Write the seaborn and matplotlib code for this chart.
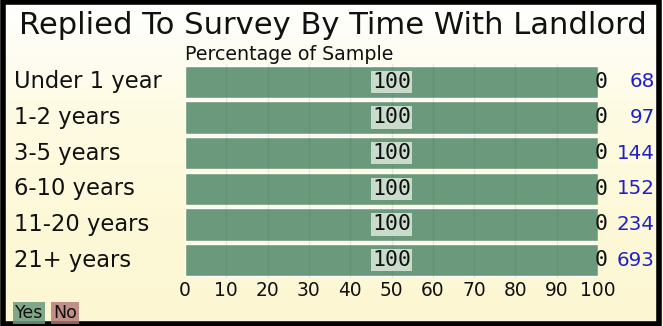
import matplotlib
matplotlib.use("Agg")
import matplotlib.pyplot as plt
import matplotlib.transforms as mtrans
from matplotlib.patches import Rectangle
from matplotlib.colors import LinearSegmentedColormap
import numpy as np
import pandas as pd
import seaborn as sns

title = "Replied To Survey By Time With Landlord"
subtitle = "Percentage of Sample"
categories = ["Under 1 year", "1-2 years", "3-5 years", "6-10 years", "11-20 years", "21+ years"]
yes_pct = [100, 100, 100, 100, 100, 100]
no_pct = [0, 0, 0, 0, 0, 0]
counts = [68, 97, 144, 152, 234, 693]
xticks = [0, 10, 20, 30, 40, 50, 60, 70, 80, 90, 100]
legend_labels = ["Yes", "No"]

YES_C = "#6a9a7b"
NO_C = "#b27676"
BG = "#fdf9d8"

df = pd.DataFrame({
    "cat": categories,
    "yes": yes_pct,
    "no": no_pct,
    "total": [a + b for a, b in zip(yes_pct, no_pct)],
    "n": counts,
})

sns.set_style("white")
W, H = 663, 326
fig = plt.figure(figsize=(W / 100, H / 100), dpi=100)
fig.patch.set_facecolor(BG)

# subtle white-to-cream gradient background
bg_ax = fig.add_axes([0, 0, 1, 1], zorder=-10)
grad = np.linspace(0, 1, 256).reshape(-1, 1)
cmap = LinearSegmentedColormap.from_list("bg", ["#ffffff", "#fefbe4", BG, "#fcf6d2"])
bg_ax.imshow(grad, aspect="auto", cmap=cmap, extent=[0, 1, 0, 1])
bg_ax.axis("off")

ax = fig.add_axes([185 / W, 1 - 278 / H, (598 - 185) / W, (278 - 64) / H])
ax.set_facecolor("none")

sns.barplot(data=df, x="total", y="cat", color=NO_C, orient="h", width=0.915,
            saturation=1, errorbar=None, ax=ax, zorder=2)
sns.barplot(data=df, x="yes", y="cat", color=YES_C, orient="h", width=0.915,
            saturation=1, errorbar=None, ax=ax, zorder=2)

ax.set_xlim(0, 100)
ax.set_ylim(len(categories) - 0.5, -0.5)
ax.set_xticks(xticks)
ax.set_xticklabels([str(t) for t in xticks])
ax.tick_params(axis="x", length=0, labelsize=13.4, pad=2, colors="#111111")
ax.set_yticks([])
ax.set_xlabel("")
ax.set_ylabel("")
for s in ax.spines.values():
    s.set_visible(False)
for t in xticks[1:-1]:
    ax.axvline(t, color="#40604c", alpha=0.12, lw=1, zorder=3)

tr = mtrans.blended_transform_factory(fig.transFigure, ax.transData)
for i, row in df.iterrows():
    ax.text(14 / W, i, row["cat"], transform=tr, ha="left", va="center",
            fontsize=16.3, color="#111111")
    ax.text(row["yes"] / 2, i, str(row["yes"]), ha="center", va="center",
            fontsize=15.5, family="DejaVu Sans Mono", color="#111111", zorder=5,
            bbox=dict(boxstyle="square,pad=0.05", fc="#c9dccb", ec="none"))
    ax.text(row["total"] - 0.7, i, str(row["no"]), ha="left", va="center",
            fontsize=15.5, family="DejaVu Sans Mono", color="#111111", zorder=5)
    ax.text(655 / W, i, str(row["n"]), transform=tr, ha="right", va="center",
            fontsize=14.3, color="#2020c8")

fig.text(19 / W, 1 - 26 / H, title, ha="left", va="center", fontsize=22.1, color="#111111")
fig.text(185 / W, 1 - 54 / H, subtitle, ha="left", va="center", fontsize=13.7, color="#111111")

# legend
fig.text(15 / W, 1 - 313 / H, legend_labels[0], ha="left", va="center", fontsize=12.5,
         color="#111111", bbox=dict(boxstyle="square,pad=0.1", fc=YES_C, ec="none", alpha=0.85))
fig.text(53 / W, 1 - 313 / H, legend_labels[1], ha="left", va="center", fontsize=12.5,
         color="#111111", bbox=dict(boxstyle="square,pad=0.1", fc=NO_C, ec="none", alpha=0.8))

# border
fig.patches.append(Rectangle((3 / W, 2 / H), (W - 7) / W, (H - 4) / H, transform=fig.transFigure,
                             fill=False, ec="black", lw=4))

fig.savefig("out.png", dpi=100, facecolor=fig.get_facecolor())
